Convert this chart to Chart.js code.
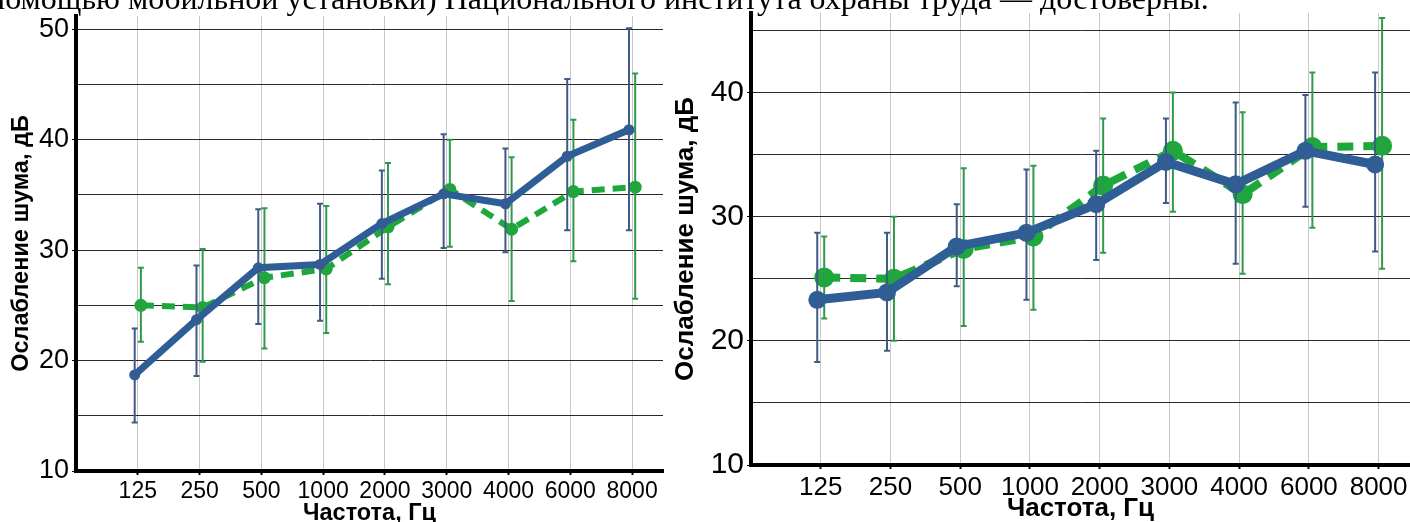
<!DOCTYPE html>
<html lang="ru">
<head>
<meta charset="utf-8">
<script src="https://cdn.jsdelivr.net/npm/chart.js@4.4.1/dist/chart.umd.min.js"></script>
<style>
  html, body { margin: 0; padding: 0; background: #fff; }
  body { width: 1410px; height: 522px; position: relative; overflow: hidden; }
  .para {
    position: absolute; left: -12px; top: -18px; z-index: 2;
    font: 32px/1 'Liberation Serif', 'Times New Roman', serif;
    white-space: nowrap; color: #000;
  }
  canvas { position: absolute; top: 0; }
  #chartA { left: 0; }
  #chartB { left: 668px; }
</style>
</head>
<body>
<div class="para">помощью мобильной установки) Национального института охраны труда — достоверны.</div>
<canvas id="chartA" width="665" height="522"></canvas>
<canvas id="chartB" width="742" height="522"></canvas>
<script>
// частоты (общие для обоих графиков)
const freqLabels = ['125', '250', '500', '1000', '2000', '3000', '4000', '6000', '8000'];

// левый график
const blueA = [18.7, 23.7, 28.4, 28.7, 32.4, 35.1, 34.2, 38.5, 40.9];
const blueALow = [14.4, 18.6, 23.3, 23.6, 27.4, 30.2, 29.8, 31.8, 31.8];
const blueAHigh = [22.9, 28.6, 33.7, 34.2, 37.2, 40.5, 39.2, 45.5, 50.1];
const greenA = [25.0, 24.8, 27.5, 28.3, 32.1, 35.5, 31.9, 35.3, 35.7];
const greenALow = [21.7, 19.9, 21.1, 22.5, 26.9, 30.3, 25.4, 29.0, 25.6];
const greenAHigh = [28.4, 30.1, 33.8, 34.0, 37.9, 40.0, 38.4, 41.8, 46.0];
const yTicksA = [10, 15, 20, 25, 30, 35, 40, 45, 50];

// правый график
const blueB = [23.3, 23.9, 27.6, 28.7, 31.0, 34.4, 32.6, 35.3, 34.2];
const blueBLow = [18.3, 19.2, 24.4, 23.3, 26.5, 31.1, 26.2, 30.8, 27.2];
const blueBHigh = [28.7, 28.7, 31.0, 33.8, 35.3, 37.9, 39.2, 39.8, 41.6];
const greenB = [25.1, 25.0, 27.4, 28.4, 32.5, 35.3, 31.8, 35.6, 35.7];
const greenBLow = [21.8, 20.0, 21.2, 22.5, 27.1, 30.4, 25.4, 29.1, 25.8];
const greenBHigh = [28.4, 30.0, 33.9, 34.1, 37.9, 40.0, 38.4, 41.6, 46.0];
const yTicksB = [10, 15, 20, 25, 30, 35, 40, 45];

const BLUE = '#2f5d96';
const GREEN = '#1ea83c';
const shift = 0.05; // небольшой сдвиг серий, чтобы усы не слипались

// усы погрешностей рисуются сразу после своей серии
const errorBars = {
  id: 'errorBars',
  afterDatasetDraw(chart, args) {
    const ds = chart.data.datasets[args.index];
    if (!ds.errLow) return;
    const { ctx, scales: { x, y } } = chart;
    const cap = 3;
    ctx.save();
    ctx.strokeStyle = ds.errColor;
    ctx.lineWidth = 2;
    ctx.setLineDash([]);
    ds.data.forEach((p, i) => {
      const px = x.getPixelForValue(p.x);
      const top = y.getPixelForValue(ds.errHigh[i]);
      const bot = y.getPixelForValue(ds.errLow[i]);
      ctx.beginPath();
      ctx.moveTo(px, top); ctx.lineTo(px, bot);
      ctx.moveTo(px - cap, top); ctx.lineTo(px + cap, top);
      ctx.moveTo(px - cap, bot); ctx.lineTo(px + cap, bot);
      ctx.stroke();
    });
    ctx.restore();
  }
};

function toPoints(values, dx) {
  return values.map((v, i) => ({ x: i + dx, y: v }));
}

function buildChart(id, s, blue, blueLow, blueHigh, green, greenLow, greenHigh, yTicks) {
  new Chart(document.getElementById(id), {
    type: 'line',
    data: {
      datasets: [
        {
          data: toPoints(blue, -shift),
          errLow: blueLow, errHigh: blueHigh, errColor: '#3d5b86',
          borderColor: BLUE, backgroundColor: BLUE, borderWidth: s.blueWidth,
          pointRadius: s.blueRadius, pointBorderWidth: 0, pointBackgroundColor: BLUE,
          tension: 0
        },
        {
          data: toPoints(green, shift),
          errLow: greenLow, errHigh: greenHigh, errColor: '#2f9a4c',
          borderColor: GREEN, backgroundColor: GREEN, borderWidth: s.greenWidth,
          borderDash: s.dash,
          pointRadius: s.greenRadius, pointBorderWidth: 0, pointBackgroundColor: GREEN,
          tension: 0
        }
      ]
    },
    options: {
      responsive: false,
      animation: false,
      devicePixelRatio: 1,
      layout: { autoPadding: false, padding: { top: s.top, right: s.right, left: 0, bottom: 0 } },
      plugins: { legend: { display: false }, tooltip: { enabled: false } },
      scales: {
        x: {
          type: 'linear',
          min: -1,
          max: s.xMax,
          afterBuildTicks: sc => { sc.ticks = freqLabels.map((_, i) => ({ value: i })); },
          afterFit: sc => { sc.height = s.xHeight; sc.paddingLeft = 0; sc.paddingRight = 0; },
          ticks: {
            autoSkip: false, maxRotation: 0, padding: 3, color: '#000',
            font: { family: "'Liberation Sans', sans-serif", size: s.xTickSize },
            callback: v => freqLabels[Math.round(v)]
          },
          grid: { color: '#c8c8c8', lineWidth: 1, tickLength: 4, tickColor: '#000', tickWidth: 2 },
          border: { color: '#000', width: 4 },
          title: {
            display: true, text: 'Частота, Гц', color: '#000', padding: 0,
            font: { family: "'Liberation Sans', sans-serif", size: s.titleSize, weight: 'bold', lineHeight: s.xTitleLH }
          }
        },
        y: {
          min: 10,
          max: s.yMax,
          afterBuildTicks: sc => { sc.ticks = yTicks.map(v => ({ value: v })); },
          afterFit: sc => { sc.width = s.yWidth; sc.paddingTop = 0; sc.paddingBottom = 0; },
          ticks: {
            padding: 3, color: '#000',
            font: { family: "'Liberation Sans', sans-serif", size: s.yTickSize },
            callback: v => (v % 10 === 0 ? String(v) : '')
          },
          grid: {
            color: '#2a2a2a', lineWidth: 1, tickLength: 4,
            tickColor: c => (c.tick && c.tick.value % 10 === 0 ? '#000' : 'rgba(0,0,0,0)')
          },
          border: { color: '#000', width: 4 },
          title: {
            display: true, text: 'Ослабление шума, дБ', color: '#000', padding: { top: s.yTitlePad },
            font: { family: "'Liberation Sans', sans-serif", size: s.titleSize, weight: 'bold', lineHeight: 1 }
          }
        }
      }
    },
    plugins: [errorBars]
  });
}

buildChart('chartA', {
  top: 16, right: 2, xMax: 8.5, yMax: 51.2, xHeight: 51, yWidth: 76,
  xTickSize: 23, yTickSize: 27, titleSize: 23.5, xTitleLH: 0.7, yTitlePad: 10,
  blueWidth: 7, blueRadius: 5.5, greenWidth: 6, greenRadius: 6.5, dash: [13, 8]
}, blueA, blueALow, blueAHigh, greenA, greenALow, greenAHigh, yTicksA);

buildChart('chartB', {
  top: 13, right: 0, xMax: 8.45, yMax: 46.4, xHeight: 57, yWidth: 83,
  xTickSize: 26, yTickSize: 30, titleSize: 26, xTitleLH: 1, yTitlePad: 5,
  blueWidth: 9, blueRadius: 9, greenWidth: 8, greenRadius: 10, dash: [16, 10]
}, blueB, blueBLow, blueBHigh, greenB, greenBLow, greenBHigh, yTicksB);
</script>
</body>
</html>
